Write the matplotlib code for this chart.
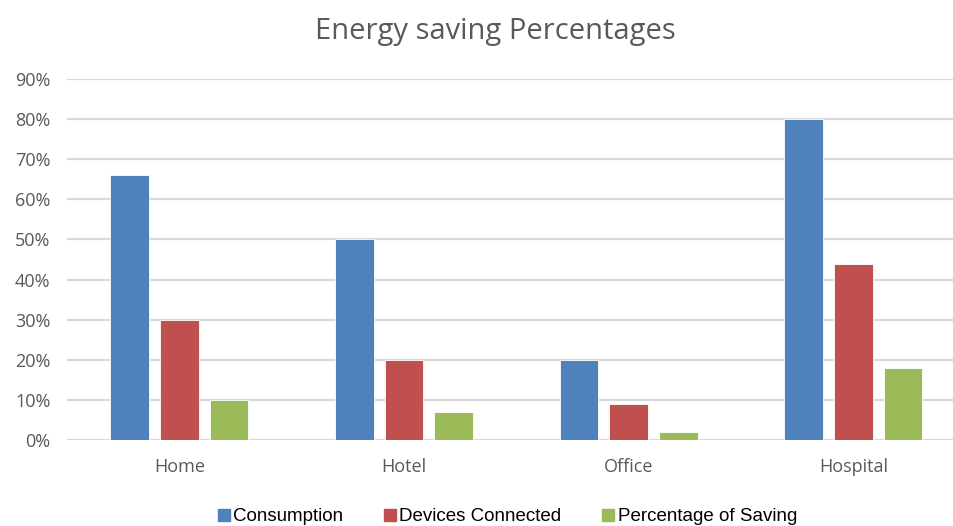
import matplotlib.pyplot as plt
import numpy as np
from matplotlib.lines import Line2D
from matplotlib.ticker import FuncFormatter

categories = ["Home", "Hotel", "Office", "Hospital"]
consumption = [66, 50, 20, 80]
devices_connected = [30, 20, 9, 44]
saving = [10, 7, 2, 18]
series_names = ["Consumption", "Devices Connected", "Percentage of Saving"]
colors = ["#4F81BD", "#C0504D", "#9BBB59"]

fig = plt.figure(figsize=(9.54, 5.26), dpi=100)
# the original chart is cut off on the right, so the axes run past the figure edge
ax = fig.add_axes([0.0702, 0.1635, 0.942, 0.6863])

x = np.arange(len(categories))
width = 0.172
offset = 0.221
for i, vals in enumerate([consumption, devices_connected, saving]):
    ax.bar(x + (i - 1) * offset, vals, width, color=colors[i],
           edgecolor="white", linewidth=0.6, zorder=3)

ax.set_xlim(-0.5, 3.5)
ax.set_ylim(0, 90)
ax.set_yticks(np.arange(0, 91, 10))
ax.yaxis.set_major_formatter(FuncFormatter(lambda v, p: f"{int(v)}%"))
ax.set_xticks(x)
ax.set_xticklabels(categories)
ax.grid(axis="y", color="#D9D9D9", linewidth=1.6, zorder=0)
for s in ["top", "right", "left", "bottom"]:
    ax.spines[s].set_visible(False)
ax.tick_params(axis="both", length=0, colors="#595959", labelsize=13)
ax.tick_params(axis="y", pad=12)
ax.tick_params(axis="x", pad=13)
for lab in ax.get_xticklabels() + ax.get_yticklabels():
    lab.set_fontfamily("Open Sans")

fig.text(0.519, 0.94, "Energy saving Percentages", ha="center", va="center",
         fontsize=21, color="#595959", family="Open Sans")

handles = [Line2D([], [], marker="s", linestyle="none", markersize=8,
                  markerfacecolor=c, markeredgecolor=c) for c in colors]
fig.legend(handles, series_names, loc="center", bbox_to_anchor=(0.53, 0.018),
           ncol=3, frameon=False, handletextpad=0.0, columnspacing=2.0,
           handlelength=1.0, prop={"family": "Liberation Sans", "size": 13.5})

fig.savefig("out.png", dpi=100)
